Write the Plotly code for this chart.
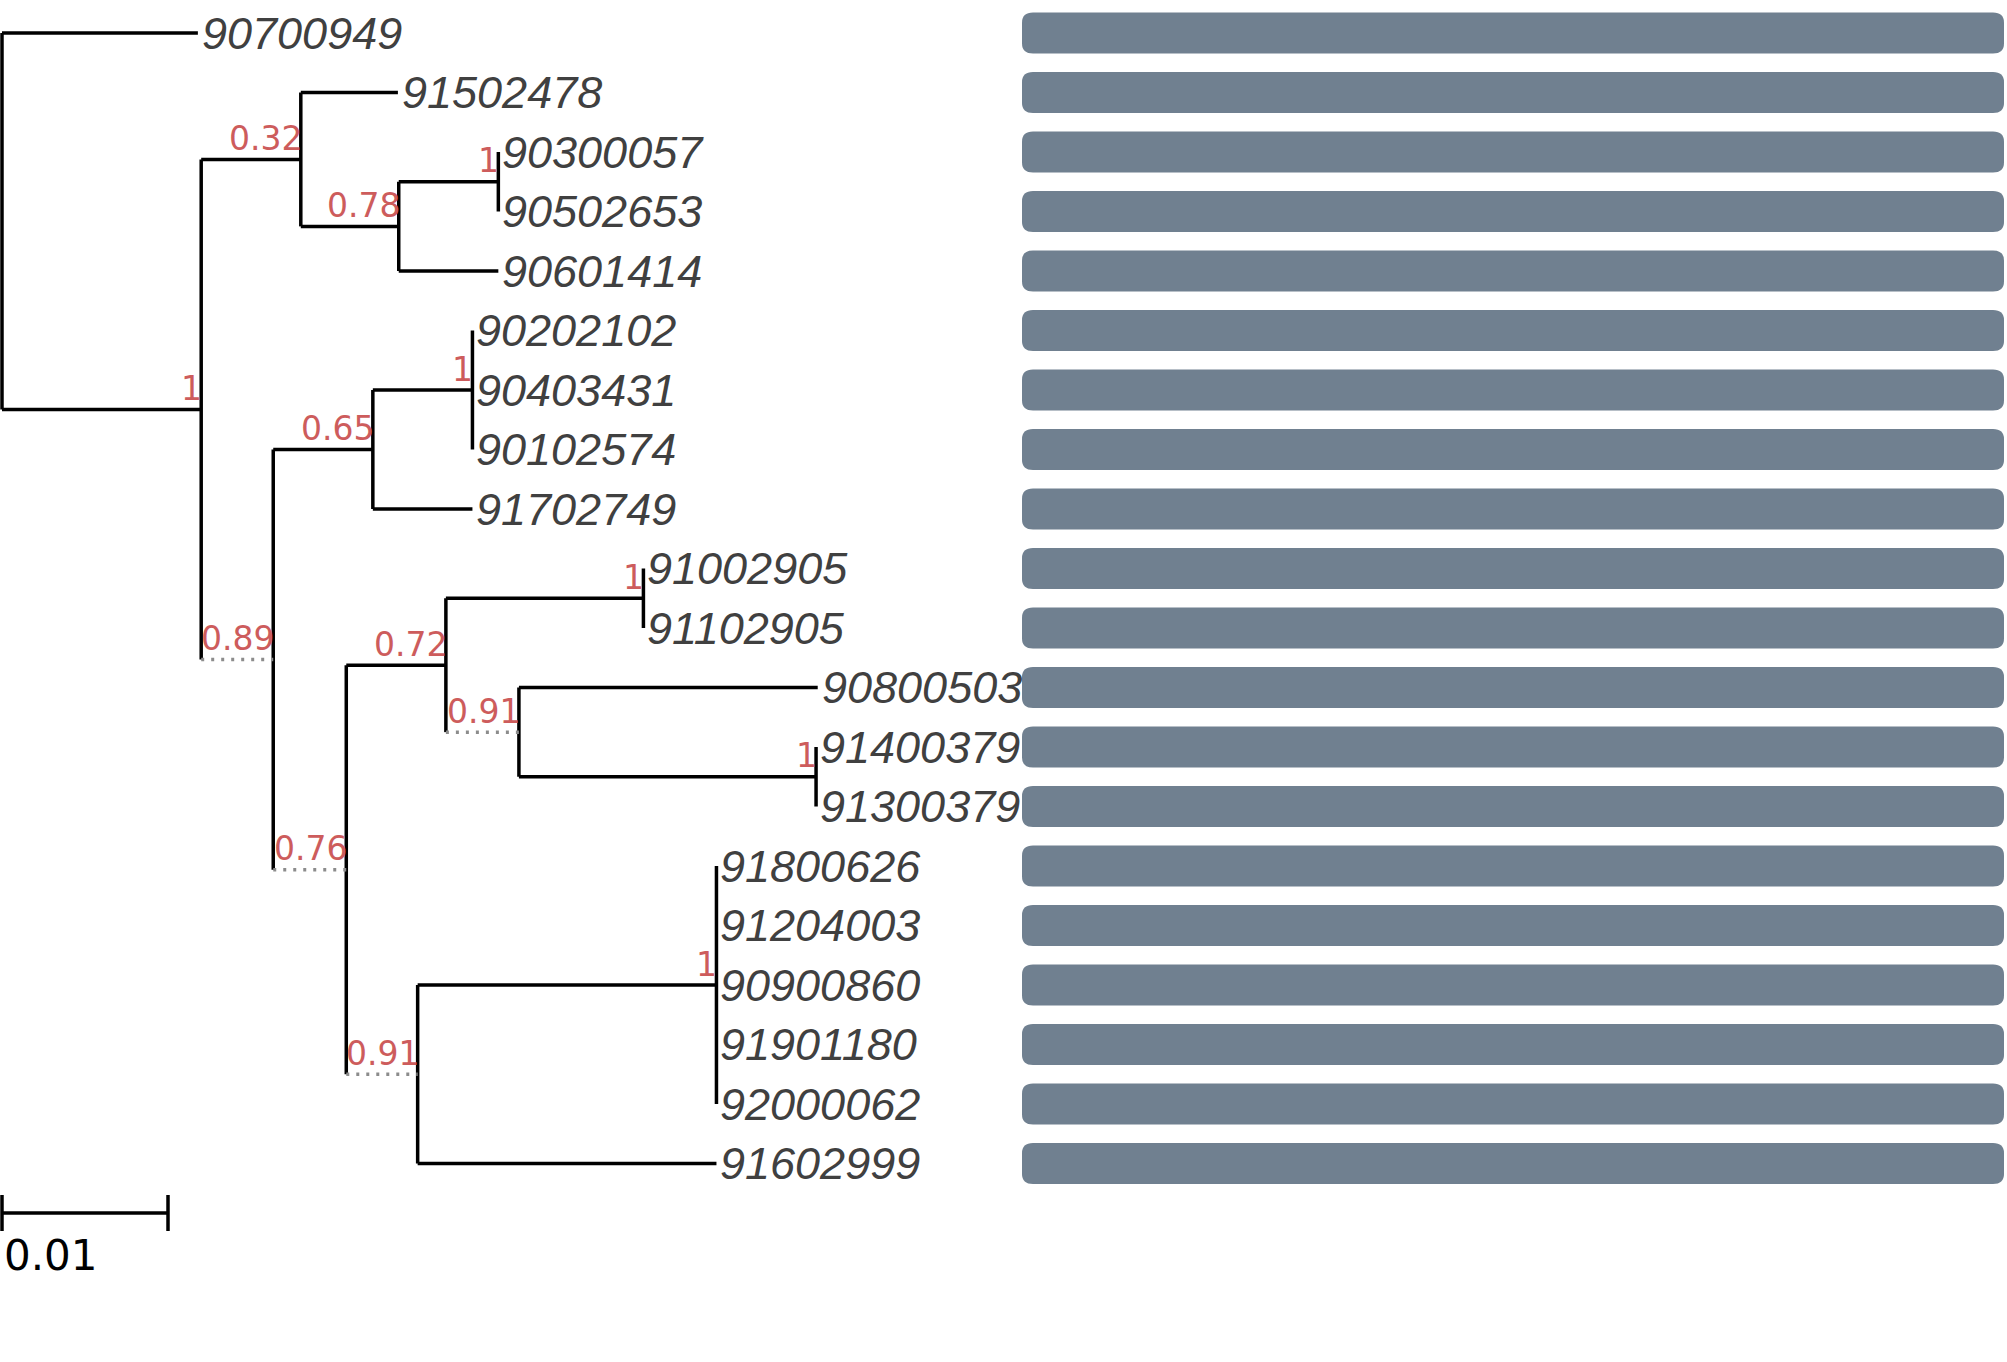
import plotly.graph_objects as go

# tree: node ids, parent of each node, branch length, support value
node_ids = ["root", "90700949", "n1", "n2", "91502478", "n3", "n4", "90300057", "90502653",
            "90601414", "n5", "n6", "n7", "90202102", "90403431", "90102574", "91702749",
            "n8", "n9", "n10", "91002905", "91102905", "n11", "90800503", "n12", "91400379",
            "91300379", "n13", "n14", "91800626", "91204003", "90900860", "91901180",
            "92000062", "91602999"]
parent_ids = [None, "root", "root", "n1", "n2", "n2", "n3", "n4", "n4",
              "n3", "n1", "n5", "n6", "n7", "n7", "n7", "n6",
              "n5", "n8", "n9", "n10", "n10", "n9", "n11", "n11", "n12",
              "n12", "n8", "n13", "n14", "n14", "n14", "n14",
              "n14", "n13"]
branch_len = [0.0, 0.0118, 0.0120, 0.0060, 0.00585, 0.0059, 0.0060, 0.0, 0.0,
              0.0060, 0.00434, 0.0060, 0.0060, 0.0, 0.0, 0.0, 0.0060,
              0.0044, 0.0060, 0.0119, 0.0, 0.0, 0.0044, 0.0180, 0.0179, 0.0,
              0.0, 0.0043, 0.0180, 0.0, 0.0, 0.0, 0.0,
              0.0, 0.0180]
support = [None, None, 1, 0.32, None, 0.78, 1, None, None,
           None, 0.89, 0.65, 1, None, None, None, None,
           0.76, 0.72, 1, None, None, 0.91, None, 1, None,
           None, 0.91, 1, None, None, None, None,
           None, None]
dotted_nodes = ["n5", "n8", "n11", "n13"]

# right panel: each leaf's bar (fraction of full length)
bar_start = [0.0, 0.0, 0.0, 0.0, 0.0, 0.0, 0.0, 0.0, 0.0, 0.0,
             0.0, 0.0, 0.0, 0.0, 0.0, 0.0, 0.0, 0.0, 0.0, 0.0]
bar_end = [1.0, 1.0, 1.0, 1.0, 1.0, 1.0, 1.0, 1.0, 1.0, 1.0,
           1.0, 1.0, 1.0, 1.0, 1.0, 1.0, 1.0, 1.0, 1.0, 1.0]

scale_len = 0.01
scale_label = "0.01"

W, H = 2007, 1362
PX_PER_UNIT = 16600.0
ROW_PX = 59.5
ROW1_PX = 33.0

# --- layout of the tree ---
bl = dict(zip(node_ids, branch_len))
sup = dict(zip(node_ids, support))
kids = {n: [] for n in node_ids}
for n, p in zip(node_ids, parent_ids):
    if p is not None:
        kids[p].append(n)

xs, ys = {}, {}
leaf_order = []


def place(node, x_parent):
    xs[node] = x_parent + bl[node]
    if not kids[node]:
        leaf_order.append(node)
        ys[node] = float(len(leaf_order))
        return
    for c in kids[node]:
        place(c, xs[node])
    ys[node] = (ys[kids[node][0]] + ys[kids[node][-1]]) / 2


place("root", 0.0)

solid_x, solid_y, dot_x, dot_y = [], [], [], []
for n, p in zip(node_ids, parent_ids):
    if p is not None and bl[n] > 0:
        if n in dotted_nodes:
            dot_x += [xs[p], xs[n], None]
            dot_y += [ys[n], ys[n], None]
        else:
            solid_x += [xs[p], xs[n], None]
            solid_y += [ys[n], ys[n], None]
    if kids[n]:
        solid_x += [xs[n], xs[n], None]
        solid_y += [ys[kids[n][0]], ys[kids[n][-1]], None]

fig = go.Figure()
fig.add_trace(go.Scatter(x=solid_x, y=solid_y, mode="lines",
                         line=dict(color="black", width=3.5), hoverinfo="skip"))
fig.add_trace(go.Scatter(x=dot_x, y=dot_y, mode="lines",
                         line=dict(color="#8c8c8c", width=3.5, dash="3px,7px"), hoverinfo="skip"))

# scale bar
sb_y = 1 + (1213 - ROW1_PX) / ROW_PX
tick = 18 / ROW_PX
fig.add_trace(go.Scatter(x=[0, scale_len, None, 0, 0, None, scale_len, scale_len],
                         y=[sb_y, sb_y, None, sb_y - tick, sb_y + tick, None, sb_y - tick, sb_y + tick],
                         mode="lines", line=dict(color="black", width=3.5), hoverinfo="skip"))

annotations = []
for leaf in leaf_order:
    annotations.append(dict(x=xs[leaf], y=ys[leaf], xref="x", yref="y", text=leaf,
                            showarrow=False, xanchor="left", yanchor="middle", xshift=2,
                            font=dict(family="Liberation Sans", size=45, style="italic",
                                      color="#404040")))
for n in node_ids:
    if sup[n] is not None:
        annotations.append(dict(x=xs[n], y=ys[n], xref="x", yref="y", text=f"{sup[n]:g}",
                                showarrow=False, xanchor="right", yanchor="middle",
                                xshift=3, yshift=21,
                                font=dict(family="DejaVu Sans", size=33, color="#cd5c5c")))
annotations.append(dict(x=0, y=1 + (1255 - ROW1_PX) / ROW_PX, xref="x", yref="y",
                        text=scale_label, showarrow=False, xanchor="left", yanchor="middle",
                        xshift=0, font=dict(family="DejaVu Sans", size=42, color="black")))

# rounded bars on the right panel
x2_lo, x2_hi = 1022 / W, 2004 / W
rx = 11 / ((x2_hi - x2_lo) * W)
ry = 10 / ROW_PX
hh = 20.5 / ROW_PX
shapes = []
for i, leaf in enumerate(leaf_order):
    x0, x1 = bar_start[i], bar_end[i]
    y0, y1 = ys[leaf] - hh, ys[leaf] + hh
    path = (f"M {x0 + rx},{y0} L {x1 - rx},{y0} Q {x1},{y0} {x1},{y0 + ry} "
            f"L {x1},{y1 - ry} Q {x1},{y1} {x1 - rx},{y1} L {x0 + rx},{y1} "
            f"Q {x0},{y1} {x0},{y1 - ry} L {x0},{y0 + ry} Q {x0},{y0} {x0 + rx},{y0} Z")
    shapes.append(dict(type="path", path=path, xref="x2", yref="y",
                       fillcolor="#708090", line=dict(width=0), layer="above"))

fig.add_trace(go.Scatter(x=[(a + b) / 2 for a, b in zip(bar_start, bar_end)],
                         y=[ys[l] for l in leaf_order], xaxis="x2", mode="none",
                         hoverinfo="skip"))

y_top = 1 - ROW1_PX / ROW_PX
y_bot = y_top + H / ROW_PX
fig.update_layout(
    width=W, height=H, margin=dict(l=0, r=0, t=0, b=0),
    paper_bgcolor="white", plot_bgcolor="white", showlegend=False,
    xaxis=dict(range=[-2 / PX_PER_UNIT, (W - 2) / PX_PER_UNIT], visible=False, domain=[0, 1]),
    xaxis2=dict(range=[0, 1], visible=False, domain=[x2_lo, x2_hi], anchor="y"),
    yaxis=dict(range=[y_bot, y_top], visible=False),
    annotations=annotations, shapes=shapes,
)
fig.write_html("out.html", config={"displayModeBar": False},
               post_script="document.body.style.margin='0';")
